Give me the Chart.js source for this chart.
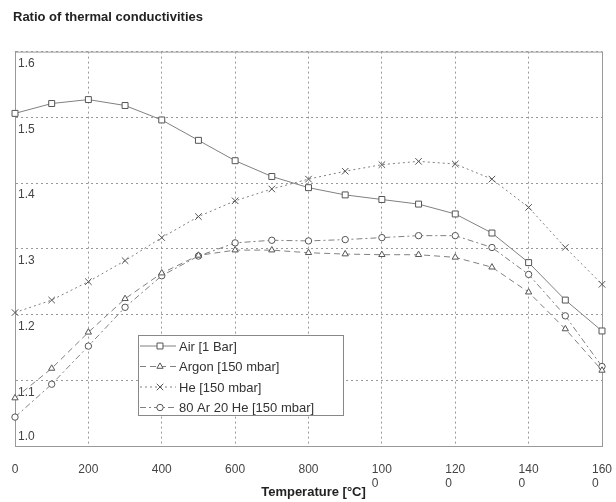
<!DOCTYPE html>
<html>
<head>
<meta charset="utf-8">
<title>Ratio of thermal conductivities</title>
<script src="https://cdn.jsdelivr.net/npm/chart.js@4.4.0/dist/chart.umd.min.js"></script>
<style>
  html, body { margin: 0; padding: 0; background: #fff; }
  #wrap { width: 616px; height: 502px; }
</style>
</head>
<body>
<div id="wrap"><canvas id="chart" width="616" height="502"></canvas></div>
<script>
// values (the 1700 point is only there so lines run off the frame)
const temperatures = [0, 100, 200, 300, 400, 500, 600, 700, 800, 900, 1000, 1100, 1200, 1300, 1400, 1500, 1600, 1700];
const airValues    = [1.506, 1.521, 1.527, 1.518, 1.496, 1.465, 1.434, 1.410, 1.393, 1.382, 1.375, 1.368, 1.353, 1.324, 1.279, 1.222, 1.175, 1.126];
const argonValues  = [1.073, 1.118, 1.173, 1.224, 1.263, 1.290, 1.298, 1.298, 1.294, 1.292, 1.291, 1.291, 1.287, 1.272, 1.234, 1.178, 1.115, 1.020];
const heliumValues = [1.203, 1.222, 1.250, 1.282, 1.317, 1.349, 1.373, 1.391, 1.406, 1.418, 1.428, 1.433, 1.429, 1.406, 1.363, 1.302, 1.246, 1.174];
const mixValues    = [1.044, 1.094, 1.152, 1.211, 1.259, 1.289, 1.309, 1.313, 1.312, 1.314, 1.317, 1.320, 1.320, 1.302, 1.261, 1.198, 1.121, 1.010];

const seriesLabels = ['Air [1 Bar]', 'Argon [150 mbar]', 'He [150 mbar]', '80 Ar 20 He [150 mbar]'];
const xTickLabels = ['0', '200', '400', '600', '800', ['100', '0    '], ['120', '0    '], ['140', '0    '], ['160', '0    ']];
const yTickLabels = ['1.0', '1.1', '1.2', '1.3', '1.4', '1.5', '1.6'];
const xAxisTitle = 'Temperature [°C]';

const FONT = "'Liberation Sans', Arial, sans-serif";
const LINE = '#808080';
const MARK = '#555';

function points(values) {
  return temperatures.map((t, i) => ({ x: t, y: values[i] }));
}

function series(label, values, dash, style, radius) {
  return {
    label,
    data: points(values),
    borderColor: LINE,
    borderWidth: 1,
    borderDash: dash,
    pointStyle: style,
    pointRadius: radius,
    pointBorderColor: MARK,
    pointBackgroundColor: '#fff',
    pointBorderWidth: 1,
    tension: 0,
    clip: false
  };
}

// y labels sit under their grid line, except the bottom one; axis title overlaps the wrapped x labels
const axisTextPlugin = {
  id: 'axisText',
  afterDraw(chart) {
    const { ctx, scales: { y }, chartArea: a } = chart;
    ctx.save();
    ctx.font = '12px ' + FONT;
    ctx.fillStyle = '#444';
    ctx.textAlign = 'left';
    ctx.textBaseline = 'middle';
    y.ticks.forEach((tick, i) => {
      const py = y.getPixelForValue(tick.value);
      ctx.fillText(yTickLabels[i], 18, i === 0 ? py - 9 : py + 12);
    });
    ctx.font = 'bold 13px ' + FONT;
    ctx.fillStyle = '#222';
    ctx.textAlign = 'center';
    ctx.fillText(xAxisTitle, (a.left + a.right) / 2 + 5, 492);
    ctx.restore();
  }
};

const framePlugin = {
  id: 'frame',
  beforeDatasetsDraw(chart) {
    const { ctx, chartArea: a } = chart;
    ctx.save();
    ctx.strokeStyle = '#999';
    ctx.lineWidth = 1;
    ctx.beginPath();
    ctx.moveTo(a.left, a.top + 0.5);
    ctx.lineTo(a.right + 0.5, a.top + 0.5);
    ctx.lineTo(a.right + 0.5, a.bottom);
    ctx.stroke();
    ctx.restore();
  }
};

// boxed legend placed inside the plot like the original
const legendPlugin = {
  id: 'boxLegend',
  afterDraw(chart) {
    const { ctx } = chart;
    const box = { x: 138, y: 335, w: 205, h: 80 };
    ctx.save();
    ctx.fillStyle = '#fff';
    ctx.fillRect(box.x, box.y, box.w, box.h);
    ctx.strokeStyle = '#888';
    ctx.lineWidth = 1;
    ctx.strokeRect(box.x + 0.5, box.y + 0.5, box.w, box.h);
    ctx.font = '13px ' + FONT;
    ctx.textBaseline = 'middle';
    chart.data.datasets.forEach((ds, i) => {
      const ly = box.y + 11 + i * 20.5;
      ctx.strokeStyle = ds.borderColor;
      ctx.setLineDash(ds.borderDash || []);
      ctx.beginPath();
      ctx.moveTo(box.x + 2, ly);
      ctx.lineTo(box.x + 38, ly);
      ctx.stroke();
      ctx.setLineDash([]);
      ctx.strokeStyle = MARK;
      ctx.fillStyle = '#fff';
      ctx.lineWidth = 1;
      Chart.helpers.drawPoint(ctx, { pointStyle: ds.pointStyle, radius: ds.pointRadius, rotation: 0, borderWidth: 1 }, box.x + 22, ly);
      ctx.fillStyle = '#333';
      ctx.fillText(ds.label, box.x + 41, ly + 1);
    });
    ctx.restore();
  }
};

new Chart(document.getElementById('chart'), {
  type: 'line',
  data: {
    datasets: [
      series(seriesLabels[0], airValues, [], 'rect', 4.2),
      series(seriesLabels[1], argonValues, [6, 4], 'triangle', 3.6),
      series(seriesLabels[2], heliumValues, [2, 3], 'crossRot', 4.6),
      series(seriesLabels[3], mixValues, [6, 3, 2, 3], 'circle', 3.2)
    ]
  },
  options: {
    responsive: false,
    animation: false,
    layout: { padding: { left: 13, right: 14, top: 0, bottom: 8.2 } },
    plugins: {
      legend: { display: false },
      tooltip: { enabled: false },
      title: {
        display: true,
        text: 'Ratio of thermal conductivities',
        align: 'start',
        color: '#222',
        font: { family: FONT, size: 13, weight: 'bold' },
        padding: { top: 10, bottom: 26 }
      }
    },
    scales: {
      x: {
        type: 'linear',
        min: 0,
        max: 1600,
        ticks: {
          stepSize: 200,
          autoSkip: false,
          maxRotation: 0,
          padding: 3,
          color: '#444',
          font: { family: FONT, size: 12 },
          callback: (value) => xTickLabels[value / 200]
        },
        grid: { color: '#999', drawTicks: true, tickLength: 13, tickColor: 'rgba(0,0,0,0)' },
        border: { display: true, color: '#999', dash: [2, 3] }
      },
      y: {
        min: 1.0,
        max: 1.6,
        ticks: { stepSize: 0.1, display: false },
        grid: { color: '#999', drawTicks: false },
        border: { display: true, color: '#999', dash: [2, 3] },
        afterFit: (scale) => { scale.width = 2; }
      }
    }
  },
  plugins: [framePlugin, axisTextPlugin, legendPlugin]
});
</script>
</body>
</html>
